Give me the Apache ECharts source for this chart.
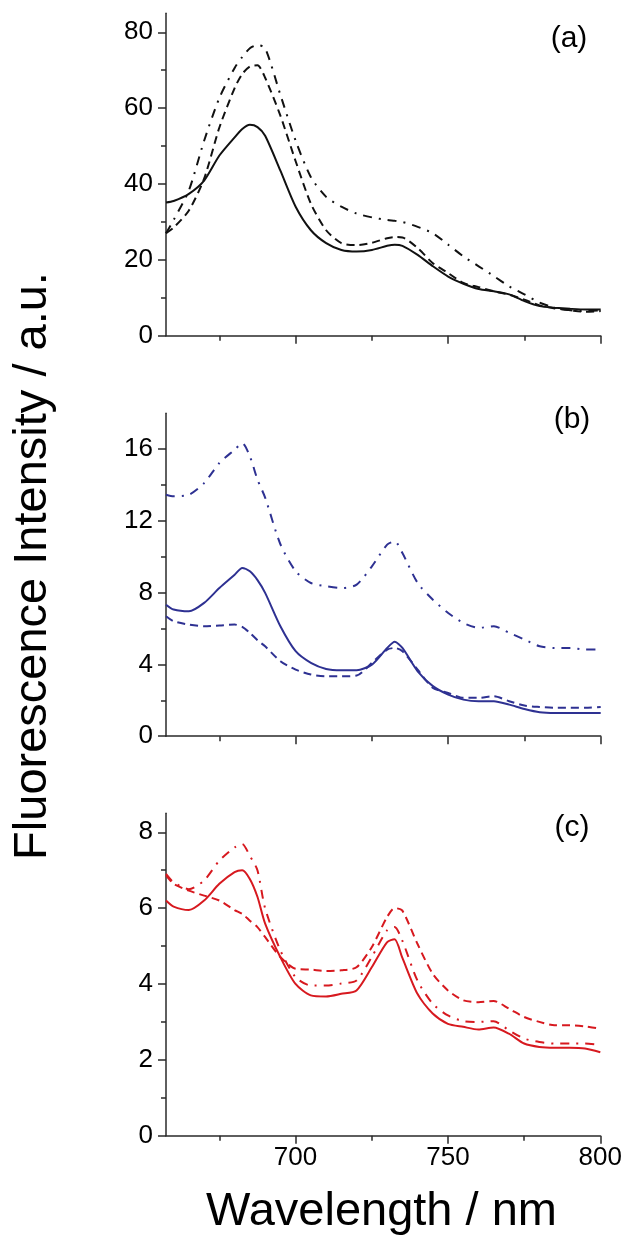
<!DOCTYPE html>
<html>
<head>
<meta charset="utf-8">
<title>Fluorescence spectra</title>
<script src="https://cdn.jsdelivr.net/npm/echarts@6/dist/echarts.min.js"></script>
<style>
  html, body { margin: 0; padding: 0; background: #fff; }
  #chart { width: 625px; height: 1238px; }
</style>
</head>
<body>
<div id="chart"></div>
<script>
// wavelength (nm), shared by all curves
const wavelength = [657.5, 660, 665, 670, 675, 680, 682.5, 685, 687.5, 690, 695, 700, 705, 710, 715, 720, 725,
  730, 732.5, 735, 740, 745, 750, 755, 760, 765, 770, 775, 780, 785, 790, 795, 800]

// panel (a) - black
const aSolid = [35.1, 35.5, 37.4, 40.9, 47.5, 52.3, 54.5, 55.6, 55.0, 52.7, 43.5, 34, 27.8, 24.4, 22.6, 22.2, 22.6,
  23.7, 24, 23.7, 21.3, 18.3, 15.6, 13.7, 12.3, 11.7, 10.9, 9.1, 7.8, 7.4, 7.1, 6.9, 6.9]
const aDash = [27, 28.5, 33, 41.4, 54.9, 65.3, 69, 71, 71.3, 68, 58, 46, 34.8, 27.8, 24.4, 23.9, 24.5,
  25.7, 26, 25.9, 23.1, 19.1, 16.5, 13.9, 12.8, 11.7, 10.8, 9.5, 8, 7.2, 6.7, 6.3, 6.5]
const aDashDot = [27, 30.5, 38.3, 51.4, 62.7, 70.6, 73.5, 75.8, 76.6, 75.8, 63.5, 51.4, 41.8, 36.6, 34, 32.2, 31.2,
  30.5, 30.3, 30, 28.7, 27, 24, 20.9, 18.3, 15.7, 13, 10.9, 8.7, 7.4, 6.7, 6.5, 6.7]

// panel (b) - blue
const bSolid = [7.33, 7.06, 6.96, 7.43, 8.26, 9.0, 9.38, 9.19, 8.7, 7.99, 6.13, 4.74, 4.09, 3.75, 3.68, 3.68, 3.99,
  4.92, 5.26, 4.92, 3.62, 2.79, 2.32, 2.04, 1.95, 1.95, 1.76, 1.52, 1.34, 1.3, 1.3, 1.3, 1.3]
const bDash = [6.69, 6.41, 6.22, 6.13, 6.17, 6.22, 6.1, 5.76, 5.35, 5.01, 4.18, 3.71, 3.44, 3.34, 3.34, 3.38, 4.09,
  4.83, 4.92, 4.74, 3.71, 2.69, 2.41, 2.14, 2.14, 2.23, 1.95, 1.71, 1.63, 1.58, 1.58, 1.58, 1.63]
const bDashDot = [13.46, 13.37, 13.46, 14.11, 15.23, 15.97, 16.34, 15.6, 14.3, 13.3, 10.7, 9.2, 8.54, 8.36, 8.26, 8.45, 9.47,
  10.68, 10.86, 10.21, 8.54, 7.61, 6.87, 6.31, 6.04, 6.13, 5.76, 5.39, 5.01, 4.92, 4.92, 4.83, 4.83]

// panel (c) - red
const cSolid = [6.2, 6.04, 5.95, 6.2, 6.64, 6.95, 7.0, 6.77, 6.3, 5.6, 4.71, 4.0, 3.7, 3.67, 3.74, 3.83, 4.44,
  5.1, 5.18, 4.7, 3.74, 3.22, 2.95, 2.87, 2.8, 2.85, 2.69, 2.43, 2.34, 2.32, 2.32, 2.3, 2.2]
const cDash = [6.86, 6.64, 6.46, 6.33, 6.2, 5.95, 5.85, 5.67, 5.5, 5.24, 4.71, 4.4, 4.38, 4.34, 4.36, 4.44, 4.97,
  5.76, 6.0, 5.94, 5.06, 4.27, 3.83, 3.57, 3.52, 3.55, 3.35, 3.13, 3.0, 2.91, 2.91, 2.88, 2.82]
const cDashDot = [6.9, 6.68, 6.5, 6.73, 7.25, 7.6, 7.69, 7.38, 7.0, 6.0, 4.89, 4.18, 3.96, 3.96, 4.01, 4.09, 4.71,
  5.41, 5.5, 5.15, 4.09, 3.48, 3.17, 3.02, 3.0, 3.02, 2.78, 2.56, 2.47, 2.43, 2.43, 2.43, 2.39]

// axis ticks
const xMajor = [700, 750, 800]
const xMinor = [675, 725, 775]
const yMax = [85, 18, 8.5]
const yMajor = [[0, 20, 40, 60, 80], [0, 4, 8, 12, 16], [0, 2, 4, 6, 8]]
const yMinor = [[10, 30, 50, 70], [2, 6, 10, 14], [1, 3, 5, 7]]
const panelLabels = ['(a)', '(b)', '(c)']
const colors = ['#111111', '#2e3192', '#d7191f']

const FONT = 'Liberation Sans, Arial, Helvetica, sans-serif'
const AXIS = '#2a2a2a'

const grids = [
  { left: 166, right: 24.3, top: 13.3, bottom: 902.3 },
  { left: 166, right: 24.3, top: 413.3, bottom: 501.8 },
  { left: 166, right: 24.3, top: 813.3, bottom: 102.3 }
]

const xAxes = []
const yAxes = []
const series = []
const panelData = [
  [aSolid, aDash, aDashDot],
  [bSolid, bDash, bDashDot],
  [cSolid, cDash, cDashDot]
]
const styles = [
  { type: 'solid', width: 2 },
  { type: [8, 5], width: 2 },
  { type: [9, 7, 2, 7], width: 2 }
]

for (let i = 0; i < 3; i++) {
  // main x axis with line, major ticks and labels
  xAxes.push({
    type: 'value', gridIndex: i, position: 'bottom', min: 657.5, max: 800,
    axisLine: { show: true, onZero: false, lineStyle: { color: AXIS, width: 1.5 } },
    axisTick: { show: true, customValues: xMajor, length: 8, lineStyle: { color: AXIS, width: 1.5 } },
    axisLabel: { show: i === 2, customValues: xMajor, fontSize: 26, fontFamily: FONT, color: '#000', margin: 9 },
    splitLine: { show: false }
  })
  // minor x ticks
  xAxes.push({
    type: 'value', gridIndex: i, position: 'bottom', min: 657.5, max: 800,
    axisLine: { show: false, onZero: false },
    axisTick: { show: true, customValues: xMinor, length: 5, lineStyle: { color: AXIS, width: 1.5 } },
    axisLabel: { show: false },
    splitLine: { show: false }
  })
  yAxes.push({
    type: 'value', gridIndex: i, position: 'left', min: 0, max: yMax[i],
    axisLine: { show: true, onZero: false, lineStyle: { color: AXIS, width: 1.5 } },
    axisTick: { show: true, customValues: yMajor[i], length: 8, lineStyle: { color: AXIS, width: 1.5 } },
    axisLabel: { show: true, customValues: yMajor[i], fontSize: 26, fontFamily: FONT, color: '#000', margin: 13 },
    splitLine: { show: false }
  })
  yAxes.push({
    type: 'value', gridIndex: i, position: 'left', min: 0, max: yMax[i],
    axisLine: { show: false, onZero: false },
    axisTick: { show: true, customValues: yMinor[i], length: 5, lineStyle: { color: AXIS, width: 1.5 } },
    axisLabel: { show: false },
    splitLine: { show: false }
  })
  panelData[i].forEach((vals, k) => {
    series.push({
      type: 'line',
      xAxisIndex: i * 2,
      yAxisIndex: i * 2,
      data: wavelength.map((w, j) => [w, vals[j]]),
      showSymbol: false,
      symbol: 'none',
      smooth: 0.25,
      lineStyle: { color: colors[i], width: styles[k].width, type: styles[k].type },
      z: 3
    })
  })
}

const labelPos = [[569, 39], [572, 420], [572, 828]]
const graphics = panelLabels.map((t, i) => ({
  type: 'text', x: labelPos[i][0], y: labelPos[i][1],
  style: { text: t, font: '30px ' + FONT, fill: '#000', textAlign: 'center', textVerticalAlign: 'middle' }
}))
graphics.push({
  type: 'text', x: 33, y: 566, rotation: Math.PI / 2,
  style: { text: 'Fluorescence Intensity / a.u.', font: '47px ' + FONT, fill: '#000', textAlign: 'center', textVerticalAlign: 'middle' }
})
graphics.push({
  type: 'text', x: 381.5, y: 1212,
  style: { text: 'Wavelength / nm', font: '47px ' + FONT, fill: '#000', textAlign: 'center', textVerticalAlign: 'middle' }
})

const chart = echarts.init(document.getElementById('chart'), null, { renderer: 'canvas' })
chart.setOption({
  animation: false,
  backgroundColor: '#fff',
  grid: grids,
  xAxis: xAxes,
  yAxis: yAxes,
  series: series,
  graphic: graphics
})
</script>
</body>
</html>
